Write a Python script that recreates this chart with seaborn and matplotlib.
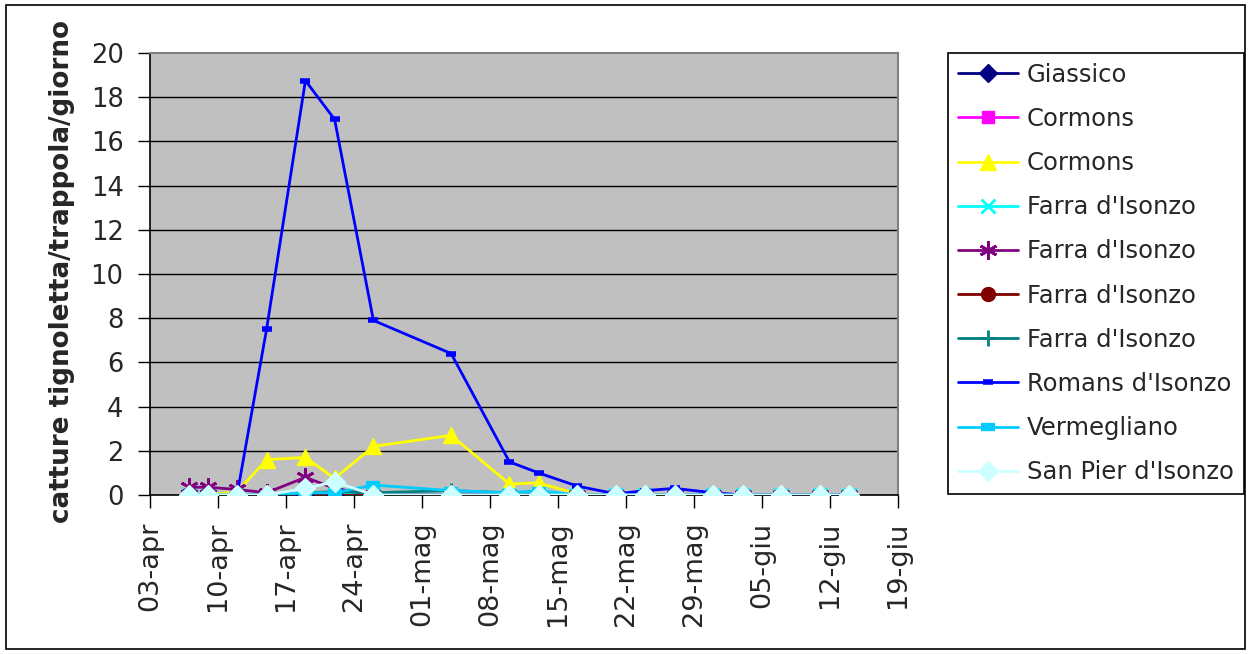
import numpy as np
import pandas as pd
import matplotlib
matplotlib.use("Agg")
import matplotlib.pyplot as plt
from matplotlib.lines import Line2D
from matplotlib.patches import Rectangle
import seaborn as sns

sns.set_style("ticks")
plt.rcParams['font.family'] = ['DejaVu Sans']

# ---------------- data ----------------
dates = ["2006-04-07", "2006-04-09", "2006-04-12", "2006-04-15", "2006-04-19",
         "2006-04-22", "2006-04-26", "2006-05-04", "2006-05-10", "2006-05-13",
         "2006-05-17", "2006-05-21", "2006-05-24", "2006-05-27", "2006-05-31",
         "2006-06-03", "2006-06-07", "2006-06-11", "2006-06-14"]

nan = np.nan
giassico   = [0, 0, 0, 0, 0.05, 0.05, 0, 0, 0, 0, 0, 0, 0, 0, 0, 0, 0, 0, 0]
cormons_a  = [0, 0, 0, 0, 0, 0, 0, 0, 0, 0, 0, 0, 0, 0, 0, 0, 0, 0, 0]
cormons_b  = [0, 0, 0.15, 1.6, 1.7, 0.75, 2.2, 2.7, 0.5, 0.55, 0.05, 0, 0, 0, 0, 0, 0, 0, 0]
farra_a    = [0, 0, 0, 0, 0.1, 0.05, 0, 0, 0, 0, 0, 0, 0, 0, 0, 0, 0, 0, 0]
farra_b    = [0.35, 0.35, 0.25, 0.1, 0.8, 0.3, 0, 0, 0, 0, 0, 0, 0, 0, 0, 0, 0, 0, 0]
farra_c    = [0, 0, 0, 0, 0, 0, 0, 0, 0, 0, 0, 0, 0, 0, 0, 0, 0, 0, 0]
farra_d    = [0, 0, 0, 0, 0.1, 0.15, 0.1, 0.2, 0.1, 0, 0, 0, 0, 0, 0, 0, 0, 0, 0]
romans     = [nan, nan, 0.1, 7.5, 18.75, 17.0, 7.9, 6.4, 1.5, 1.0, 0.4, 0.05, 0.2, 0.3, 0.1, 0, 0, 0, 0]
vermeglian = [0, 0, 0, 0, 0.1, 0.1, 0.45, 0.2, 0.1, 0.2, 0, 0, 0, 0, 0, 0, 0, 0, 0]
san_pier   = [0, 0, 0, 0, 0.3, 0.6, 0, 0, 0, 0, 0, 0, 0, 0, 0, 0, 0, 0, 0]

series_names = ["Giassico", "Cormons", "Cormons", "Farra d'Isonzo", "Farra d'Isonzo",
                "Farra d'Isonzo", "Farra d'Isonzo", "Romans d'Isonzo", "Vermegliano",
                "San Pier d'Isonzo"]
series_values = [giassico, cormons_a, cormons_b, farra_a, farra_b, farra_c, farra_d,
                 romans, vermeglian, san_pier]

tick_dates = ["2006-04-03", "2006-04-10", "2006-04-17", "2006-04-24", "2006-05-01",
              "2006-05-08", "2006-05-15", "2006-05-22", "2006-05-29", "2006-06-05",
              "2006-06-12", "2006-06-19"]
tick_labels = ["03-apr", "10-apr", "17-apr", "24-apr", "01-mag", "08-mag", "15-mag",
               "22-mag", "29-mag", "05-giu", "12-giu", "19-giu"]

y_label = "catture tignoletta/trappola/giorno"

# ---------------- styles ----------------
asterisk = (6, 2, 0)
styles = [
    dict(color="#000080", marker="D", ms=9, mew=1),
    dict(color="#FF00FF", marker="s", ms=9, mew=1),
    dict(color="#FFFF00", marker="^", ms=12, mew=1),
    dict(color="#00FFFF", marker="x", ms=10, mew=2),
    dict(color="#800080", marker=asterisk, ms=13, mew=2),
    dict(color="#800000", marker="o", ms=10, mew=1),
    dict(color="#008080", marker="+", ms=12, mew=2),
    dict(color="#0000FF", marker="_", ms=7, mew=4),
    dict(color="#00CCFF", marker="_", ms=10, mew=6),
    dict(color="#CCFFFF", marker="D", ms=10.5, mew=1),
]

fig = plt.figure(figsize=(12.51, 6.54), dpi=100)
ax = fig.add_axes([150/1251, 1-495/654, (898-150)/1251, (495-53)/654])
ax.set_facecolor("#C0C0C0")

x = pd.to_datetime(dates)
handles = []
for name, vals, st in zip(series_names, series_values, styles):
    df = pd.DataFrame({"d": x, "v": vals}).dropna()
    sns.lineplot(data=df, x="d", y="v", ax=ax, color=st["color"], linewidth=2,
                 marker=st["marker"], markersize=st["ms"], markeredgewidth=st["mew"],
                 markeredgecolor=st["color"], markerfacecolor=st["color"],
                 legend=False, zorder=3)
    handles.append(Line2D([0], [0], color=st["color"], linewidth=2, marker=st["marker"],
                          markersize=st["ms"], markeredgewidth=st["mew"],
                          markeredgecolor=st["color"], markerfacecolor=st["color"]))

# axes
ax.set_xlim(pd.Timestamp(tick_dates[0]), pd.Timestamp(tick_dates[-1]))
ax.set_ylim(0, 20)
ax.set_yticks(np.arange(0, 21, 2))
ax.set_xticks(pd.to_datetime(tick_dates))
ax.set_xticklabels(tick_labels, rotation=90, fontsize=19.5)
ax.tick_params(axis="y", labelsize=18.5, length=9, width=1, color="black", direction="out", pad=10)
ax.tick_params(axis="x", length=9, width=1, color="black", direction="out", pad=10)
for yv in range(2, 20, 2):
    ax.axhline(yv, color="black", linewidth=1, zorder=1)
ax.set_xlabel("")
ax.set_ylabel(y_label, fontsize=18.8, fontweight="bold")
ax.yaxis.set_label_coords(-0.10, 0.505)

for s in ["left", "bottom"]:
    ax.spines[s].set_color("black")
    ax.spines[s].set_linewidth(1.2)
for s in ["top", "right"]:
    ax.spines[s].set_visible(True)
    ax.spines[s].set_color("#808080")
    ax.spines[s].set_linewidth(1.5)

leg = fig.legend(handles, series_names, loc="upper left",
                 bbox_to_anchor=(948/1251, 1-53/654), bbox_transform=fig.transFigure,
                 fontsize=17.5, frameon=True, fancybox=False, framealpha=1,
                 edgecolor="black", handlelength=2.5, handletextpad=0.35,
                 labelspacing=0.83, borderpad=0.4, borderaxespad=0)
leg.get_frame().set_linewidth(1.2)

# figure border
fig.patches.append(Rectangle((6/1251, 1-649/654), 1239/1251, 644/654, transform=fig.transFigure,
                             fill=False, edgecolor="black", linewidth=1.2))

fig.savefig("out.png", dpi=100)
